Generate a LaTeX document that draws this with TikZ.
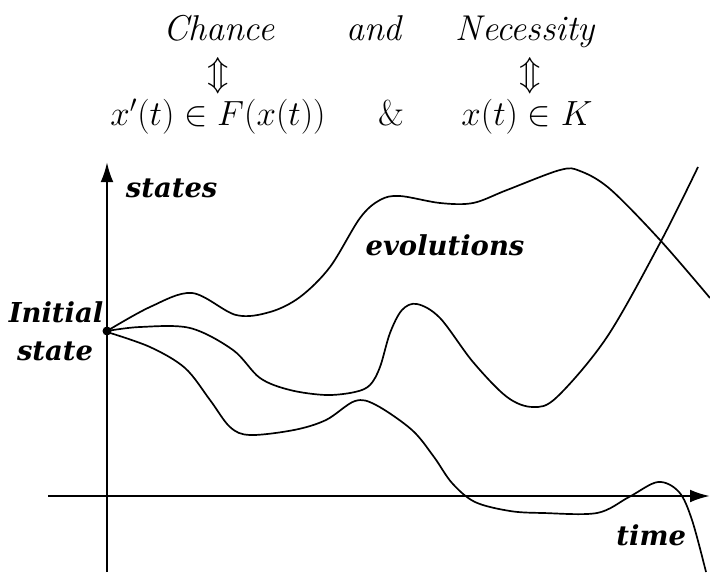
\documentclass[tikz,border=0pt]{standalone}
\usepackage{fontspec}
\newfontfamily\evofont{DejaVu Serif}
\usetikzlibrary{arrows.meta}
\tikzset{axisline/.style={draw=black,line width=1.7pt,-{Latex[length=5mm,width=3.2mm]}},evo/.style={draw=black,line width=1.2pt,smooth,tension=0.55},lbl/.style={font=\evofont\bfseries\itshape\fontsize{19.5}{22}\selectfont,anchor=base},top/.style={font=\fontsize{25.5}{30}\selectfont,anchor=base}}

\begin{document}
\begin{tikzpicture}[x=0.025cm,y=-0.025cm]
\useasboundingbox (0,0) rectangle (710,572);
% top line
\node[top] (chance) at (219,40) {\textit{Chance}};
\node[top] (and) at (375,40) {\textit{and}};
\node[top] (necess) at (526,40) {\textit{Necessity}};
\node[font=\fontsize{25.5}{30}\selectfont] (eqa) at (218,76) {$\Updownarrow$};
\node[font=\fontsize{25.5}{30}\selectfont] (eqb) at (530,76) {$\Updownarrow$};
\node[top] (dyn) at (218,125) {$x'(t)\in F(x(t))$};
\node[top] (amp) at (391,125) {\&};
\node[top] (viab) at (527,125) {$x(t)\in K$};
% axes
\coordinate (origin) at (107,496);
\coordinate (ytop) at (107,162);
\coordinate (ybot) at (107,572);
\coordinate (xleft) at (48,496);
\coordinate (xright) at (710,496);
\draw[axisline] (ybot) -- (ytop);
\draw[axisline] (xleft) -- (xright);
\node[lbl,anchor=base west] (states) at (121,197) {states};
\node[lbl,anchor=base east] (time) at (691,545) {time};
\node[lbl] (initial) at (56,322) {Initial};
\node[lbl] (state) at (55,360) {state};
\node[lbl] (evol) at (445,255) {evolutions};
% evolutions
\draw[evo] plot coordinates {(107,331) (150,307) (192,293) (236,315) (270,312) (300,297) (330,267) (360,218) (380,200) (400,196) (440,203) (473,203) (507,190) (560,170) (580,171) (610,189) (660,240) (710,298)};
\draw[evo] plot coordinates {(107,331) (140,327) (190,328) (233,350) (260,378) (290,390) (326,395) (355,392) (370,385) (380,367) (390,333) (402,310) (417,304) (440,318) (473,362) (507,397) (533,407) (557,397) (607,337) (660,243) (698,167)};
\draw[evo] plot coordinates {(107,332) (150,347) (185,368) (210,400) (230,427) (250,435) (294,430) (326,420) (355,401) (376,405) (412,430) (434,457) (452,483) (475,502) (510,511) (543,513) (597,513) (629,497) (658,482) (679,492) (692,520) (706,572)};
\fill (107,331) circle (4.5);
\end{tikzpicture}
\end{document}
